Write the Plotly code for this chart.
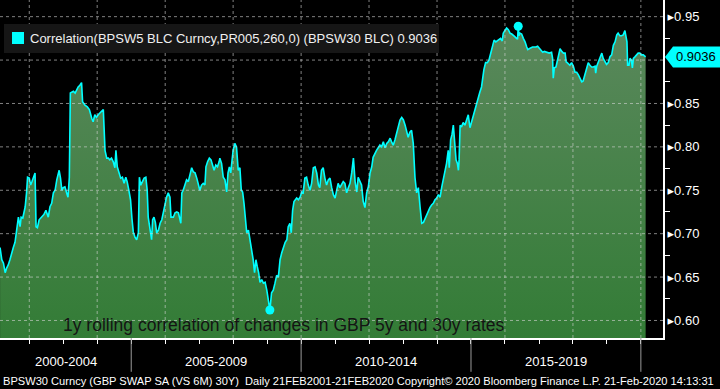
import plotly.graph_objects as go
from datetime import datetime

# ---- data (decimal year, 1y rolling correlation) ----
years = [2001.14,2001.19,2001.24,2001.29,2001.33,2001.38,2001.43,2001.48,2001.53,2001.58,2001.61,2001.65,2001.68,2001.73,2001.76,2001.81,2001.84,2001.88,2001.92,2001.95,
2002.00,2002.04,2002.08,2002.12,2002.17,2002.20,2002.24,2002.29,2002.37,2002.43,2002.49,2002.56,2002.61,2002.66,2002.71,2002.76,2002.81,2002.85,2002.88,2002.92,2002.96,
2003.00,2003.05,2003.10,2003.14,2003.18,2003.21,2003.25,2003.30,2003.35,2003.40,2003.44,2003.49,2003.54,2003.57,2003.64,2003.71,2003.77,2003.84,2003.88,2003.93,2003.98,
2004.03,2004.08,2004.13,2004.18,2004.23,2004.28,2004.33,2004.37,2004.42,2004.47,2004.52,2004.55,2004.59,2004.64,2004.69,2004.74,2004.79,2004.84,2004.88,2004.93,2004.98,
2005.02,2005.06,2005.11,2005.16,2005.21,2005.24,2005.28,2005.33,2005.38,2005.43,2005.47,2005.50,2005.55,2005.60,2005.63,2005.67,2005.71,2005.75,2005.80,2005.85,2005.90,2005.94,2005.99,
2006.04,2006.09,2006.14,2006.17,2006.24,2006.29,2006.34,2006.39,2006.43,2006.46,2006.49,2006.53,2006.58,2006.63,2006.68,2006.73,2006.78,2006.83,2006.88,2006.93,2006.97,
2007.02,2007.07,2007.12,2007.17,2007.20,2007.25,2007.30,2007.35,2007.40,2007.44,2007.49,2007.54,2007.59,2007.61,2007.66,2007.71,2007.76,2007.81,2007.85,2007.89,2007.93,2007.97,
2008.00,2008.05,2008.10,2008.15,2008.20,2008.24,2008.28,2008.32,2008.36,2008.40,2008.45,2008.50,2008.55,2008.59,2008.63,2008.67,2008.71,2008.75,2008.79,2008.84,2008.89,2008.94,2008.99,
2009.03,2009.08,2009.13,2009.18,2009.23,2009.28,2009.33,2009.38,2009.43,2009.48,2009.53,2009.58,2009.62,2009.67,2009.71,2009.75,2009.79,2009.83,2009.87,2009.92,2009.97,
2010.02,2010.06,2010.11,2010.16,2010.21,2010.26,2010.31,2010.36,2010.41,2010.46,2010.51,2010.55,2010.60,2010.65,2010.70,2010.75,2010.80,2010.85,2010.90,2010.95,
2011.00,2011.05,2011.09,2011.14,2011.19,2011.24,2011.29,2011.34,2011.39,2011.44,2011.49,2011.54,2011.59,2011.64,2011.68,2011.73,2011.78,2011.83,2011.88,2011.93,2011.98,
2012.03,2012.08,2012.12,2012.17,2012.22,2012.27,2012.32,2012.37,2012.42,2012.47,2012.52,2012.57,2012.62,2012.66,2012.71,2012.76,2012.81,2012.86,2012.91,2012.96,
2013.01,2013.06,2013.11,2013.15,2013.20,2013.25,2013.30,2013.35,2013.40,2013.45,2013.50,2013.55,2013.60,2013.65,2013.70,2013.74,2013.79,2013.84,2013.89,2013.94,2013.99,
2014.04,2014.09,2014.14,2014.18,2014.23,2014.28,2014.33,2014.36,2014.40,2014.44,2014.48,2014.52,2014.56,2014.60,2014.63,2014.65,2014.68,2014.72,2014.77,2014.82,2014.87,2014.92,2014.97,
2015.02,2015.07,2015.12,2015.17,2015.21,2015.26,2015.31,2015.34,2015.38,2015.43,2015.48,2015.53,2015.58,2015.63,2015.68,2015.73,2015.77,2015.82,2015.87,2015.92,2015.95,
2016.00,2016.05,2016.10,2016.15,2016.20,2016.24,2016.29,2016.34,2016.37,2016.39,2016.41,2016.44,2016.49,2016.54,2016.59,2016.64,2016.67,2016.71,2016.76,2016.81,2016.86,2016.91,2016.96,
2017.01,2017.06,2017.11,2017.16,2017.21,2017.26,2017.30,2017.37,2017.40,2017.42,2017.45,2017.50,2017.54,2017.58,2017.62,2017.67,2017.72,2017.77,2017.80,2017.83,2017.87,2017.91,2017.96,
2018.01,2018.06,2018.11,2018.16,2018.21,2018.26,2018.30,2018.35,2018.40,2018.45,2018.50,2018.55,2018.60,2018.65,2018.67,2018.70,2018.75,2018.80,2018.85,2018.89,2018.94,2018.99,
2019.04,2019.09,2019.14,2019.19,2019.24,2019.29,2019.33,2019.38,2019.43,2019.48,2019.53,2019.56,2019.59,2019.61,2019.65,2019.68,2019.72,2019.75,2019.78,2019.83,2019.88,2019.92,2019.97,
2020.02,2020.07,2020.14]

corr = [.684,.670,.666,.655,.660,.664,.670,.679,.684,.690,.701,.712,.719,.708,.719,.718,.724,.731,.747,.765,
.764,.756,.760,.765,.770,.708,.707,.716,.719,.722,.727,.719,.731,.735,.747,.750,.762,.768,.773,.764,.750,
.753,.754,.747,.742,.765,.862,.863,.864,.862,.866,.869,.871,.874,.852,.848,.846,.843,.833,.829,.837,.834,
.837,.839,.840,.843,.796,.787,.787,.785,.787,.783,.776,.796,.777,.771,.764,.765,.758,.765,.760,.750,.739,
.718,.702,.696,.693,.701,.765,.756,.760,.764,.765,.750,.719,.708,.693,.716,.719,.713,.701,.704,.712,.716,.724,.731,
.742,.747,.742,.719,.719,.724,.725,.724,.716,.712,.747,.750,.756,.762,.760,.770,.776,.771,.770,.764,.758,
.750,.756,.758,.756,.777,.783,.787,.785,.777,.773,.779,.777,.783,.787,.781,.765,.762,.748,.770,.777,.770,.788,
.796,.804,.800,.773,.776,.750,.748,.735,.716,.701,.704,.693,.681,.670,.655,.670,.662,.655,.644,.647,.643,.644,.635,
.624,.612,.632,.635,.643,.652,.650,.670,.678,.684,.690,.693,.708,.712,.701,.727,.737,.739,.741,.739,.742,
.748,.747,.764,.765,.756,.750,.758,.776,.777,.770,.756,.753,.773,.776,.764,.756,.762,.764,.753,.745,
.741,.753,.758,.753,.756,.760,.758,.747,.753,.758,.770,.787,.760,.748,.765,.760,.756,.737,.730,.747,.754,
.770,.777,.788,.793,.796,.799,.802,.800,.806,.799,.804,.806,.810,.806,.802,.808,.817,.825,.831,.834,
.831,.825,.817,.811,.817,.819,.804,.765,.747,.753,.731,.712,.713,.718,.722,.727,.730,.733,.735,.739,.741,
.745,.742,.754,.762,.773,.781,.796,.776,.808,.814,.825,.806,.785,.781,.773,.785,.825,.823,.828,.825,.831,.837,.822,
.829,.839,.846,.851,.856,.863,.869,.879,.889,.897,.897,.900,.908,.917,.923,.921,.922,.924,.925,.922,.931,
.934,.937,.935,.931,.930,.929,.927,.925,.924,.939,.928,.931,.930,.925,.921,.915,.912,.913,.914,.915,.915,.915,.916,
.914,.912,.909,.910,.909,.908,.908,.909,.902,.879,.891,.892,.900,.908,.913,.910,.908,.908,.898,.897,.895,.894,.897,
.893,.886,.886,.883,.879,.875,.876,.883,.892,.897,.894,.892,.892,.893,.885,.893,.898,.904,.908,.902,.898,.895,
.897,.904,.906,.917,.921,.929,.931,.928,.928,.929,.934,.929,.921,.894,.894,.902,.900,.891,.902,.904,.906,.908,.908,
.906,.906,.9036]

y_ticks = [0.60, 0.65, 0.70, 0.75, 0.80, 0.85, 0.90, 0.95]
period_labels = ["2000-2004", "2005-2009", "2010-2014", "2015-2019"]
period_centers = [2003.07, 2007.5, 2012.5, 2017.5]
grid_years = list(range(2002, 2021, 2))
sep_years = [2005, 2010, 2015, 2020]

legend_text = "Correlation(BPSW5 BLC Curncy,PR005,260,0) (BPSW30 BLC) 0.9036"
note_text = "1y rolling correlation of changes in GBP 5y and 30y rates"
footer_text = ("BPSW30 Curncy (GBP SWAP SA (VS 6M) 30Y)  Daily 21FEB2001-21FEB2020 "
               "Copyright\u00a9 2020 Bloomberg Finance L.P. 21-Feb-2020 14:13:31")


def to_date(t):
    y = int(t)
    a = datetime(y, 1, 1)
    b = datetime(y + 1, 1, 1)
    return a + (b - a) * (t - y)


dates = [to_date(t) for t in years]
X_RANGE = [to_date(2001.138), to_date(2020.65)]
Y_RANGE = [0.5798, 0.9692]
FONT = "Liberation Sans, Roboto, DejaVu Sans"
CYAN = "#00ffff"

fig = go.Figure()
fig.add_trace(go.Scatter(
    x=dates, y=corr, mode="lines",
    line=dict(color=CYAN, width=1.6),
    fill="tozeroy",
    fillgradient=dict(type="vertical",
                      colorscale=[[0, "#337c36"], [1, "#5a885c"]],
                      start=Y_RANGE[0], stop=max(corr)),
    hoverinfo="skip", showlegend=False))

imax = corr.index(max(corr))
imin = corr.index(min(corr))
fig.add_trace(go.Scatter(
    x=[dates[imax], dates[imin]], y=[corr[imax], corr[imin]], mode="markers",
    marker=dict(color=CYAN, size=9), showlegend=False, hoverinfo="skip"))

shapes = []
grid_style = dict(color="rgba(215,215,215,0.6)", width=1, dash="dot")
for v in y_ticks:
    shapes.append(dict(type="line", xref="paper", yref="y", x0=0, x1=1, y0=v, y1=v,
                       line=grid_style, layer="above"))
for yr in grid_years:
    d = datetime(yr, 1, 1)
    shapes.append(dict(type="line", xref="x", yref="paper", x0=d, x1=d, y0=0, y1=1,
                       line=grid_style, layer="above"))
for yr in sep_years:
    d = datetime(yr, 1, 1)
    shapes.append(dict(type="line", xref="x", yref="paper", x0=d, x1=d, y0=0, y1=-0.10,
                       line=dict(color="#9a9a9a", width=1), layer="above"))

PW, PH = 663.0, 338.0
def px(x):
    return x / PW
def py(y):
    return 1 - y / PH

# legend box
shapes.append(dict(type="rect", xref="paper", yref="paper", x0=px(4), x1=px(439), y0=py(24), y1=py(53),
                   fillcolor="#161616", line=dict(width=0), layer="above"))
shapes.append(dict(type="rect", xref="paper", yref="paper", x0=px(12), x1=px(24), y0=py(32), y1=py(44),
                   fillcolor=CYAN, line=dict(width=0), layer="above"))

# last value tag
last = corr[-1]
h = 10.5 * (Y_RANGE[1] - Y_RANGE[0]) / PH
path = (f"M {px(665)},{last} L {px(673)},{last + h} L {px(722)},{last + h} "
        f"L {px(722)},{last - h} L {px(673)},{last - h} Z")
shapes.append(dict(type="path", xref="paper", yref="y", path=path, fillcolor=CYAN,
                   line=dict(width=0), layer="above"))

annotations = [
    dict(xref="paper", yref="paper", x=px(28), y=py(38.5), xanchor="left", yanchor="middle",
         text=legend_text, showarrow=False, font=dict(family=FONT, size=13, color="#f0f0f0")),
    dict(xref="paper", yref="paper", x=px(284), y=py(325), xanchor="center", yanchor="middle",
         text=note_text, showarrow=False, font=dict(family=FONT, size=17.5, color="#141414")),
    dict(xref="paper", yref="y", x=px(674), y=last, xanchor="left", yanchor="middle",
         text=f"{last:.4f}", showarrow=False, font=dict(family=FONT, size=13, color="#000000")),
    dict(xref="paper", yref="paper", x=px(1), y=py(381), xanchor="left", yanchor="middle",
         text=footer_text, showarrow=False, font=dict(family=FONT, size=11.1, color="#ffffff")),
]
for lab, c in zip(period_labels, period_centers):
    annotations.append(dict(xref="x", yref="paper", x=to_date(c), y=py(361), xanchor="center",
                            yanchor="middle", text=lab, showarrow=False,
                            font=dict(family=FONT, size=13, color="#ffffff")))

major = [v for v in y_ticks if abs(v - round(last, 2)) > 0.001]
minor_vals = [round(v + 0.025, 3) for v in y_ticks[:-1]]

fig.update_layout(
    width=720, height=389,
    margin=dict(l=0, r=57, t=0, b=51),
    paper_bgcolor="#000000", plot_bgcolor="#000000",
    shapes=shapes, annotations=annotations,
    xaxis=dict(type="date", range=X_RANGE, showgrid=False, zeroline=False,
               showline=True, linecolor="#ffffff", linewidth=1.5,
               ticks="outside", ticklen=4, tickcolor="#ffffff", dtick="M12",
               tick0="2001-01-01", showticklabels=False, layer="above traces"),
    yaxis=dict(range=Y_RANGE, side="right", showgrid=False, zeroline=False,
               showline=True, linecolor="#ffffff", linewidth=2,
               tickmode="array", tickvals=major,
               ticktext=[f"\u25b8{v:.2f}" for v in major], ticks="",
               tickfont=dict(family=FONT, size=13, color="#ffffff"),
               minor=dict(tickmode="array", tickvals=minor_vals, ticks="outside",
                          ticklen=5, tickcolor="#ffffff", showgrid=False),
               layer="above traces"),
    font=dict(family=FONT, color="#ffffff"),
)

fig.write_html("out.html", config={"displayModeBar": False},
               post_script="document.body.style.margin='0';document.body.style.background='#000';")
